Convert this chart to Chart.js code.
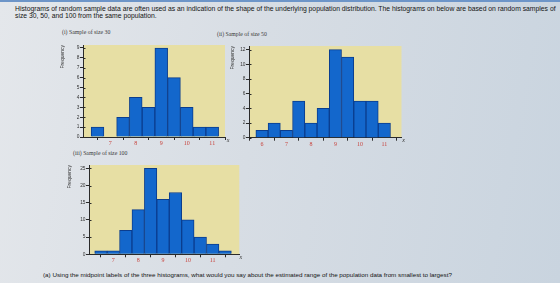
<!DOCTYPE html>
<html>
<head>
<meta charset="utf-8">
<script src="https://cdn.jsdelivr.net/npm/chart.js@4.4.1/dist/chart.umd.min.js"></script>
<style>
  html, body { margin: 0; padding: 0; }
  body {
    width: 560px; height: 283px; overflow: hidden; position: relative;
    background: linear-gradient(100deg, #e4e7eb 0%, #d7dde4 45%, #c9d4df 100%);
    border-top: 2px solid #6d95c8; box-sizing: border-box;
    font-family: "Liberation Sans", Arial, sans-serif;
  }
  .txt { position: absolute; white-space: nowrap; color: #141414; }
  .ttl { position: absolute; white-space: nowrap; color: #3a3a3a; font-family: "Liberation Serif", serif; font-size: 5.8px; }
  canvas { position: absolute; }
</style>
</head>
<body>
<div class="txt" style="left:15px; top:3px; font-size:6.8px; line-height:7.2px;">Histograms of random sample data are often used as an indication of the shape of the underlying population distribution. The histograms on below are based on random samples of<br>size 30, 50, and 100 from the same population.</div>
<div class="ttl" style="left:62px; top:27px;">(i) Sample of size 30</div>
<div class="ttl" style="left:217px; top:29px;">(ii) Sample of size 50</div>
<div class="ttl" style="left:73px; top:148px;">(iii) Sample of size 100</div>
<div class="txt" style="left:43px; top:269px; font-size:6.25px;">(a) Using the midpoint labels of the three histograms, what would you say about the estimated range of the population data from smallest to largest?</div>

<div id="w1" style="position:absolute; left:55px; top:36px; width:180px; height:112px;"><canvas id="c1"></canvas></div>
<div id="w2" style="position:absolute; left:225px; top:36px; width:190px; height:112px;"><canvas id="c2"></canvas></div>
<div id="w3" style="position:absolute; left:62px; top:156px; width:190px; height:110px;"><canvas id="c3"></canvas></div>

<script>
// midpoints and frequencies
const mids30 = [6.5, 7, 7.5, 8, 8.5, 9, 9.5, 10, 10.5, 11];
const freq30 = [1, 0, 2, 4, 3, 9, 6, 3, 1, 1];
const mids50 = [6, 6.5, 7, 7.5, 8, 8.5, 9, 9.5, 10, 10.5, 11];
const freq50 = [1, 2, 1, 5, 2, 4, 12, 11, 5, 5, 2];
const mids100 = [6.5, 7, 7.5, 8, 8.5, 9, 9.5, 10, 10.5, 11, 11.5];
const freq100 = [1, 1, 7, 13, 25, 16, 18, 10, 5, 3, 1];

const xTicks30 = [7, 8, 9, 10, 11];
const xTicks50 = [6, 7, 8, 9, 10, 11];
const xTicks100 = [7, 8, 9, 10, 11];
const yTicks30 = [0, 1, 2, 3, 4, 5, 6, 7, 8, 9];
const yTicks50 = [0, 2, 4, 6, 8, 10, 12];
const yTicks100 = [0, 5, 10, 15, 20, 25];

// yellow plot area, inner tick marks and the little "x"
const histDecor = {
    id: 'histDecor',
    beforeDraw(chart) {
        const { ctx, chartArea: a } = chart;
        ctx.save();
        ctx.fillStyle = '#e7dfa4';
        ctx.fillRect(a.left, a.top, a.right - a.left, a.bottom - a.top);
        ctx.restore();
    },
    afterDraw(chart, args, opts) {
        const { ctx, chartArea: a } = chart;
        const y = chart.scales.y;
        ctx.save();
        ctx.strokeStyle = '#2a2a2a';
        ctx.lineWidth = 1;
        y.ticks.forEach(t => {
            const py = Math.round(y.getPixelForValue(t.value)) + 0.5;
            ctx.beginPath();
            ctx.moveTo(a.left, py);
            ctx.lineTo(a.left + 2.5, py);
            ctx.stroke();
        });
        ctx.fillStyle = '#333';
        ctx.font = 'italic 6px "Liberation Serif"';
        ctx.textAlign = 'center';
        ctx.textBaseline = 'middle';
        ctx.fillText('x', a.right + (opts.dx || 2), a.bottom + 3);
        ctx.restore();
    }
};

function makeHist(id, mids, freq, xTicks, yTicks, o) {
    const ctx = document.getElementById(id).getContext('2d');
    return new Chart(ctx, {
        type: 'bar',
        data: {
            datasets: [{
                data: mids.map((m, i) => ({ x: m, y: freq[i] })),
                backgroundColor: '#1367cc',
                borderColor: '#0b3d8e',
                borderWidth: 1,
                barPercentage: 1,
                categoryPercentage: 1
            }]
        },
        options: {
            responsive: true,
            maintainAspectRatio: false,
            animation: false,
            layout: { padding: { top: o.padTop, right: o.padRight, left: 0, bottom: 0 } },
            scales: {
                x: {
                    type: 'linear',
                    offset: false,
                    min: o.xmin,
                    max: o.xmax,
                    afterBuildTicks: s => { s.ticks = xTicks.map(v => ({ value: v })); },
                    afterFit: s => { s.height = o.xH; },
                    grid: { drawOnChartArea: false, tickLength: 3, color: '#2a2a2a' },
                    border: { color: '#2a2a2a' },
                    ticks: {
                        padding: 0,
                        color: '#c8453f',
                        font: { family: '"Liberation Serif"', size: 6 },
                        maxRotation: 0,
                        autoSkip: false
                    }
                },
                y: {
                    min: 0,
                    max: o.ymax,
                    afterBuildTicks: s => { s.ticks = yTicks.map(v => ({ value: v })); },
                    afterFit: s => { s.width = o.yW; },
                    grid: { drawOnChartArea: false, tickLength: 3, color: '#2a2a2a' },
                    border: { color: '#2a2a2a' },
                    ticks: {
                        padding: 0.5,
                        color: '#333',
                        font: { family: '"Liberation Sans"', size: 4.8 },
                        autoSkip: false
                    },
                    title: {
                        display: true,
                        text: 'Frequency',
                        align: 'end',
                        color: '#333',
                        font: { family: '"Liberation Sans"', size: 5 },
                        padding: { top: 5, bottom: 0 }
                    }
                }
            },
            plugins: {
                legend: { display: false },
                tooltip: { enabled: false },
                histDecor: { dx: o.dx }
            }
        },
        plugins: [histDecor]
    });
}

makeHist('c1', mids30, freq30, xTicks30, yTicks30,
    { xmin: 5.93, xmax: 11.5, ymax: 9.3, yW: 28, xH: 13, padTop: 7, padRight: 10, dx: 3 });
makeHist('c2', mids50, freq50, xTicks50, yTicks50,
    { xmin: 5.47, xmax: 11.7, ymax: 12.5, yW: 24, xH: 12.3, padTop: 8, padRight: 13.5, dx: 0 });
makeHist('c3', mids100, freq100, xTicks100, yTicks100,
    { xmin: 6.02, xmax: 12.07, ymax: 26, yW: 27, xH: 13.7, padTop: 7, padRight: 12.7, dx: 1.5 });
</script>
</body>
</html>
